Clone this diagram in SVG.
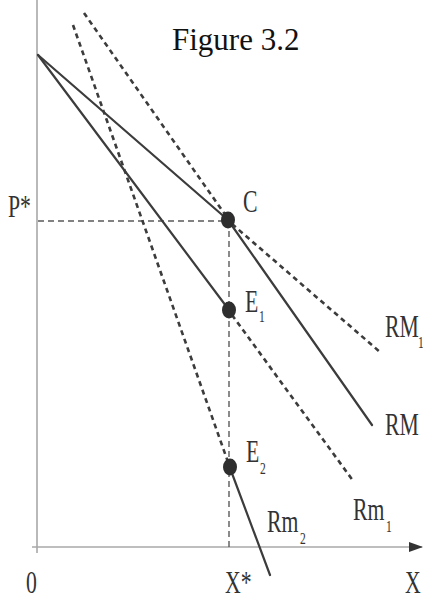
<svg xmlns="http://www.w3.org/2000/svg" width="423" height="610" viewBox="0 0 423 610">
<style>
.axis{stroke:#a8a8a8;stroke-width:1.6;fill:none}
.solid{stroke:#3c3c3c;stroke-width:2.2;fill:none;stroke-linecap:round}
.dash{stroke:#3c3c3c;stroke-width:2.6;fill:none;stroke-dasharray:5 4}
.guide{stroke:#5a5a5a;stroke-width:1.4;fill:none;stroke-dasharray:6 4}
.dot{fill:#2e2e2e}
text{font-family:"Liberation Serif","Times New Roman",serif;fill:#333}
.lbl{font-size:32px}
.sub{font-size:17px}
.title{font-size:31px;fill:#111}
</style>
<defs>
<marker id="arr" markerWidth="14" markerHeight="12" refX="13" refY="6" orient="auto" markerUnits="userSpaceOnUse">
<path d="M0,1 L14,6 L0,11 Z" fill="#333"/>
</marker>
</defs>
<rect width="423" height="610" fill="#fff"/>
<text class="title" x="172" y="50">Figure 3.2</text>
<g id="axes">
<line class="axis" x1="37" y1="0" x2="37" y2="553"/>
<line class="axis" x1="32" y1="547" x2="422" y2="547" marker-end="url(#arr)"/>
</g>
<g id="connectors">
<line class="guide" x1="38" y1="221" x2="228" y2="221"/>
<line class="guide" x1="229" y1="221" x2="229" y2="550"/>
<line class="solid" x1="38" y1="55" x2="228" y2="220"/>
<line class="dash" x1="232" y1="224" x2="380" y2="352"/>
<line class="dash" x1="84" y1="13" x2="226" y2="216"/>
<line class="solid" x1="228" y1="220" x2="372" y2="425"/>
<line class="solid" x1="38" y1="55" x2="229" y2="310"/>
<line class="dash" x1="232" y1="315" x2="354" y2="482"/>
<line class="dash" x1="73" y1="25" x2="228" y2="462"/>
<line class="solid" x1="230" y1="468" x2="270" y2="575"/>
</g>
<g id="node-C">
<ellipse class="dot" cx="228" cy="220" rx="7" ry="8.5"/>
<text class="lbl" transform="translate(243,212) scale(0.68,1)">C</text>
</g>
<g id="node-E1">
<ellipse class="dot" cx="229" cy="310" rx="7" ry="8.5"/>
<text class="lbl" transform="translate(245,312) scale(0.68,1)">E</text>
<text class="sub" transform="translate(259,322) scale(0.68,1)">1</text>
</g>
<g id="node-E2">
<ellipse class="dot" cx="230" cy="467" rx="7" ry="8.5"/>
<text class="lbl" transform="translate(246,462) scale(0.68,1)">E</text>
<text class="sub" transform="translate(260,474) scale(0.68,1)">2</text>
</g>
<g id="labels">
<text class="lbl" transform="translate(8,217) scale(0.68,1)">P*</text>
<text class="lbl" transform="translate(385,337) scale(0.68,1)">RM</text>
<text class="sub" transform="translate(418,348) scale(0.68,1)">1</text>
<text class="lbl" transform="translate(385,435) scale(0.68,1)">RM</text>
<text class="lbl" transform="translate(353,520) scale(0.68,1)">Rm</text>
<text class="sub" transform="translate(386,532) scale(0.68,1)">1</text>
<text class="lbl" transform="translate(267,532) scale(0.68,1)">Rm</text>
<text class="sub" transform="translate(300,544) scale(0.68,1)">2</text>
<text class="lbl" transform="translate(26,593) scale(0.68,1)">0</text>
<text class="lbl" transform="translate(225,593) scale(0.68,1)">X*</text>
<text class="lbl" transform="translate(405,593) scale(0.68,1)">X</text>
</g>
</svg>
